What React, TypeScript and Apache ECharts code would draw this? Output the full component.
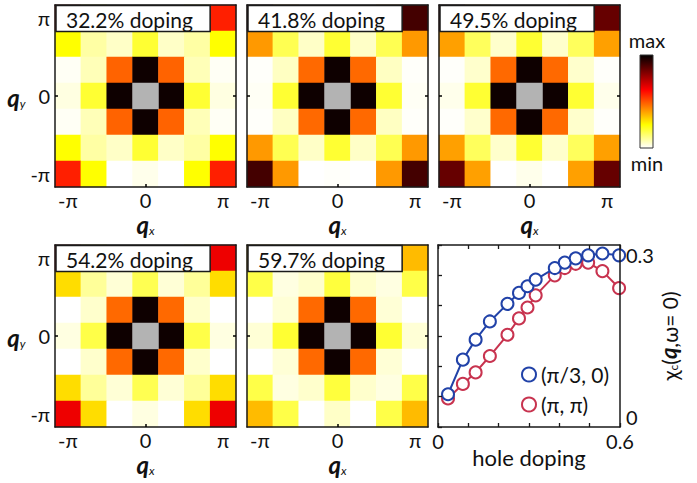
import React, { useEffect, useRef } from "react";
import * as echarts from "echarts";

const FONT = 'Lato, "Noto Sans", "DejaVu Sans", sans-serif';

// wave-vector categories (7 x 7 grid)
const qLabels = ["-π", "-2π/3", "-π/3", "0", "π/3", "2π/3", "π"];

// panel titles
const panelTitles = ["32.2% doping", "41.8% doping", "49.5% doping", "54.2% doping", "59.7% doping"];

// normalised chi_c(q) maps, rows from q_y = π (top) to q_y = -π (bottom); null = q = 0
const map322 = [
  [0.58, 0.25, 0.0, 0.02, 0.0, 0.25, 0.58],
  [0.25, 0.09, 0.055, 0.2, 0.055, 0.09, 0.25],
  [0.01, 0.07, 0.48, 0.98, 0.48, 0.07, 0.01],
  [0.03, 0.2, 0.98, null, 0.98, 0.2, 0.03],
  [0.01, 0.07, 0.48, 0.98, 0.48, 0.07, 0.01],
  [0.25, 0.09, 0.055, 0.2, 0.055, 0.09, 0.25],
  [0.58, 0.25, 0.0, 0.02, 0.0, 0.25, 0.58],
];
const map418 = [
  [0.9, 0.4, 0.0, 0.005, 0.0, 0.4, 0.9],
  [0.4, 0.17, 0.055, 0.2, 0.055, 0.17, 0.4],
  [0.005, 0.06, 0.47, 0.98, 0.47, 0.06, 0.005],
  [0.01, 0.2, 0.98, null, 0.98, 0.2, 0.01],
  [0.005, 0.06, 0.47, 0.98, 0.47, 0.06, 0.005],
  [0.4, 0.17, 0.055, 0.2, 0.055, 0.17, 0.4],
  [0.9, 0.4, 0.0, 0.005, 0.0, 0.4, 0.9],
];
const map495 = [
  [0.85, 0.39, 0.0, 0.02, 0.0, 0.39, 0.85],
  [0.39, 0.16, 0.05, 0.2, 0.05, 0.16, 0.39],
  [0.005, 0.05, 0.47, 0.98, 0.47, 0.05, 0.005],
  [0.02, 0.2, 0.98, null, 0.98, 0.2, 0.02],
  [0.005, 0.05, 0.47, 0.98, 0.47, 0.05, 0.005],
  [0.39, 0.16, 0.05, 0.2, 0.05, 0.16, 0.39],
  [0.85, 0.39, 0.0, 0.02, 0.0, 0.39, 0.85],
];
const map542 = [
  [0.65, 0.3, 0.0, 0.03, 0.0, 0.3, 0.65],
  [0.3, 0.1, 0.04, 0.17, 0.04, 0.1, 0.3],
  [0.0, 0.05, 0.47, 0.98, 0.47, 0.05, 0.0],
  [0.03, 0.18, 0.98, null, 0.98, 0.18, 0.03],
  [0.0, 0.05, 0.47, 0.98, 0.47, 0.05, 0.0],
  [0.3, 0.1, 0.04, 0.17, 0.04, 0.1, 0.3],
  [0.65, 0.3, 0.0, 0.03, 0.0, 0.3, 0.65],
];
const map597 = [
  [0.35, 0.18, 0.0, 0.055, 0.0, 0.18, 0.35],
  [0.18, 0.03, 0.05, 0.19, 0.05, 0.03, 0.18],
  [0.0, 0.04, 0.47, 0.98, 0.47, 0.04, 0.0],
  [0.04, 0.2, 0.98, null, 0.98, 0.2, 0.04],
  [0.0, 0.04, 0.47, 0.98, 0.47, 0.04, 0.0],
  [0.18, 0.03, 0.05, 0.19, 0.05, 0.03, 0.18],
  [0.35, 0.18, 0.0, 0.055, 0.0, 0.18, 0.35],
];
const maps = [map322, map418, map495, map542, map597];

// line panel
const holeDoping = [0.033, 0.082, 0.124, 0.171, 0.229, 0.267, 0.295, 0.322, 0.385, 0.418, 0.454, 0.495, 0.542, 0.597];
const chiPi3 = [0.054, 0.111, 0.144, 0.174, 0.203, 0.221, 0.232, 0.243, 0.262, 0.271, 0.278, 0.283, 0.286, 0.283];
const chiPiPi = [0.047, 0.071, 0.09, 0.117, 0.152, 0.179, 0.197, 0.217, 0.25, 0.262, 0.269, 0.271, 0.257, 0.229];
const seriesNames = ["(π/3, 0)", "(π, π)"];

// reversed "hot" colour map, min -> max
const hotColors = ["#ffffff", "#ffff80", "#ffff00", "#ffaa00", "#ff5500", "#ff0000", "#aa0000", "#550000", "#000000"];

const PANELS = [
  { left: 55, top: 5 },
  { left: 247, top: 5 },
  { left: 439, top: 5 },
  { left: 55, top: 245 },
  { left: 247, top: 245 },
];
const PW = 181;
const PH = 182;
const LINE_GRID = { left: 438, top: 245, width: 182, height: 182 };
const BLUE = "#2142a8";
const RED = "#c8334f";
const AX = "#1a1a1a";
const CENTRE_GREY = "#b3b3b3";

function toCells(rows: (number | null)[][]) {
  const out: number[][] = [];
  const n = rows.length;
  rows.forEach((row, r) =>
    row.forEach((v, c) => {
      if (v !== null) out.push([c, n - 1 - r, v]);
    })
  );
  return out;
}
function centreCells(rows: (number | null)[][]) {
  const out: number[][] = [];
  const n = rows.length;
  rows.forEach((row, r) =>
    row.forEach((v, c) => {
      if (v === null) out.push([c, n - 1 - r, 0]);
    })
  );
  return out;
}

const qRich = {
  q: { fontFamily: FONT, fontSize: 24, fontStyle: "italic", fontWeight: "bold", color: "#111", verticalAlign: "bottom", lineHeight: 26 },
  s: { fontFamily: FONT, fontSize: 12, fontStyle: "italic", color: "#111", verticalAlign: "bottom", lineHeight: 10 },
};

export default function App() {
  const ref = useRef<HTMLDivElement>(null);
  useEffect(() => {
    if (!ref.current) return;
    const chart = echarts.init(ref.current, null, { renderer: "svg" });

    const grid: any[] = [];
    const xAxis: any[] = [];
    const yAxis: any[] = [];
    const series: any[] = [];
    const graphic: any[] = [];

    const centreTick = (i: number) => i === 3;
    const lineStyle = { color: AX, width: 1.5 };

    PANELS.forEach((p, k) => {
      grid.push({ left: p.left, top: p.top, width: PW, height: PH });
      const showY = k === 0 || k === 3;
      xAxis.push({
        type: "category",
        gridIndex: k,
        data: qLabels,
        position: "bottom",
        z: 5,
        axisLine: { show: true, onZero: false, lineStyle },
        axisTick: { show: true, inside: true, length: 3, alignWithLabel: true, interval: centreTick, lineStyle: { color: "#000", width: 1.5 } },
        axisLabel: { interval: (i: number) => i % 3 === 0, margin: 4, lineHeight: 18, color: "#111", fontSize: 20, fontFamily: FONT },
        splitLine: { show: false },
        name: "{q|q}{s|x}",
        nameLocation: "middle",
        nameGap: 23,
        nameTextStyle: { rich: qRich },
      });
      xAxis.push({
        type: "category",
        gridIndex: k,
        data: qLabels,
        position: "top",
        z: 5,
        axisLine: { show: true, onZero: false, lineStyle },
        axisTick: { show: false },
        axisLabel: { show: false },
        splitLine: { show: false },
      });
      yAxis.push({
        type: "category",
        gridIndex: k,
        data: qLabels,
        position: "left",
        z: 5,
        axisLine: { show: true, onZero: false, lineStyle },
        axisTick: { show: true, inside: true, length: 3, alignWithLabel: true, interval: centreTick, lineStyle: { color: "#000", width: 1.5 } },
        axisLabel: { show: showY, interval: (i: number) => i % 3 === 0, margin: 5, color: "#111", fontSize: 20, fontFamily: FONT },
        splitLine: { show: false },
        name: showY ? "{q|q}{s|y}" : "",
        nameLocation: "middle",
        nameRotate: 0,
        nameGap: 24,
        nameTextStyle: { rich: qRich },
      });
      yAxis.push({
        type: "category",
        gridIndex: k,
        data: qLabels,
        position: "right",
        z: 5,
        axisLine: { show: true, onZero: false, lineStyle },
        axisTick: { show: true, inside: true, length: 3, alignWithLabel: true, interval: centreTick, lineStyle: { color: "#000", width: 1.5 } },
        axisLabel: { show: false },
        splitLine: { show: false },
      });

      const cellW = PW / qLabels.length;
      const cellH = PH / qLabels.length;
      graphic.push({
        type: "rect",
        z: 100,
        shape: { x: p.left + 1, y: p.top + 0.5, width: cellW * 6 - 1, height: cellH },
        style: { fill: "#fff", stroke: AX, lineWidth: 1.5 },
      });
      graphic.push({
        type: "text",
        z: 101,
        x: p.left + 11,
        y: p.top + cellH / 2 + 1,
        style: { text: panelTitles[k], fill: "#111", font: `21px ${FONT}`, verticalAlign: "middle", textAlign: "left" },
      });
    });

    maps.forEach((m, k) => {
      series.push({
        type: "heatmap",
        xAxisIndex: 2 * k,
        yAxisIndex: 2 * k,
        data: toCells(m),
        emphasis: { disabled: true },
        progressive: 0,
      });
    });
    maps.forEach((m, k) => {
      series.push({
        type: "heatmap",
        xAxisIndex: 2 * k,
        yAxisIndex: 2 * k,
        data: centreCells(m),
        emphasis: { disabled: true },
      });
    });

    // line panel
    grid.push(LINE_GRID);
    const lg = 5;
    const xLab = (v: number) => (Math.abs(v) < 1e-9 ? "0" : Math.abs(v - 0.6) < 1e-9 ? "0.6" : "");
    const yLab = (v: number) => (Math.abs(v) < 1e-9 ? "0" : Math.abs(v - 0.3) < 1e-9 ? "0.3" : "");
    xAxis.push({
      type: "value",
      gridIndex: lg,
      min: 0,
      max: 0.6,
      interval: 0.1,
      position: "bottom",
      z: 5,
      axisLine: { show: true, onZero: false, lineStyle },
      axisTick: { show: true, inside: true, length: 4, lineStyle: { color: AX, width: 1.3 } },
      axisLabel: { formatter: xLab, margin: 5, lineHeight: 18, color: "#111", fontSize: 20, fontFamily: FONT, showMinLabel: true, showMaxLabel: true },
      splitLine: { show: false },
      name: "hole doping",
      nameLocation: "middle",
      nameGap: 19,
      nameMoveOverlap: false,
      nameTextStyle: { fontSize: 22, lineHeight: 22, fontFamily: FONT, color: "#111" },
    });
    xAxis.push({
      type: "value",
      gridIndex: lg,
      min: 0,
      max: 0.6,
      interval: 0.1,
      position: "top",
      z: 5,
      axisLine: { show: true, onZero: false, lineStyle },
      axisTick: { show: true, inside: true, length: 4, lineStyle: { color: AX, width: 1.3 } },
      axisLabel: { show: false },
      splitLine: { show: false },
    });
    yAxis.push({
      type: "value",
      gridIndex: lg,
      min: 0,
      max: 0.3,
      interval: 0.05,
      position: "left",
      z: 5,
      axisLine: { show: true, onZero: false, lineStyle },
      axisTick: { show: true, inside: true, length: 4, lineStyle: { color: AX, width: 1.3 } },
      axisLabel: { show: false },
      splitLine: { show: false },
    });
    yAxis.push({
      type: "value",
      gridIndex: lg,
      min: 0,
      max: 0.3,
      interval: 0.05,
      position: "right",
      z: 5,
      axisLine: { show: true, onZero: false, lineStyle },
      axisTick: { show: false },
      axisLabel: {
        formatter: yLab,
        margin: 6,
        color: "#111",
        fontSize: 20,
        fontFamily: FONT,
        verticalAlignMaxLabel: "top",
        verticalAlignMinLabel: "bottom",
      },
      splitLine: { show: false },
      name: "{n|χ}{c|c}{n|(}{b|q}{n|,ω= 0)}",
      nameLocation: "middle",
      nameGap: 10,
      nameTextStyle: {
        rich: {
          n: { fontFamily: FONT, fontSize: 21, color: "#111", verticalAlign: "bottom", lineHeight: 24 },
          c: { fontFamily: FONT, fontSize: 12, color: "#111", verticalAlign: "bottom", lineHeight: 10 },
          b: { fontFamily: FONT, fontSize: 22, fontStyle: "italic", fontWeight: "bold", color: "#111", verticalAlign: "bottom", lineHeight: 24 },
        },
      },
    });

    const ix = 2 * lg;
    series.push({
      type: "line",
      name: seriesNames[1],
      xAxisIndex: ix,
      yAxisIndex: ix + 1,
      data: holeDoping.map((x, i) => [x, chiPiPi[i]]),
      symbol: "emptyCircle",
      symbolSize: 12,
      lineStyle: { color: RED, width: 2 },
      itemStyle: { color: RED, borderColor: RED, borderWidth: 2 },
      z: 3,
    });
    series.push({
      type: "line",
      name: seriesNames[0],
      xAxisIndex: ix,
      yAxisIndex: ix + 1,
      data: holeDoping.map((x, i) => [x, chiPi3[i]]),
      symbol: "emptyCircle",
      symbolSize: 12,
      lineStyle: { color: BLUE, width: 2 },
      itemStyle: { color: BLUE, borderColor: BLUE, borderWidth: 2 },
      z: 4,
    });

    // colour bar
    const stops = hotColors.map((c, i) => ({ offset: 1 - i / (hotColors.length - 1), color: c }));
    graphic.push({
      type: "rect",
      z: 100,
      shape: { x: 640, y: 55, width: 13, height: 93 },
      style: { fill: new echarts.graphic.LinearGradient(0, 0, 0, 1, stops.slice().reverse()), stroke: "#333", lineWidth: 1 },
    });
    graphic.push({
      type: "text",
      z: 100,
      x: 647,
      y: 40,
      style: { text: "max", fill: "#111", font: `20px ${FONT}`, textAlign: "center", verticalAlign: "middle" },
    });
    graphic.push({
      type: "text",
      z: 100,
      x: 647,
      y: 163,
      style: { text: "min", fill: "#111", font: `20px ${FONT}`, textAlign: "center", verticalAlign: "middle" },
    });

    chart.setOption({
      animation: false,
      backgroundColor: "#ffffff",
      textStyle: { fontFamily: FONT },
      grid,
      xAxis,
      yAxis,
      visualMap: [
        {
          type: "continuous",
          show: false,
          min: 0,
          max: 1,
          seriesIndex: [0, 1, 2, 3, 4],
          inRange: { color: hotColors },
        },
        {
          type: "continuous",
          show: false,
          min: 0,
          max: 1,
          seriesIndex: [5, 6, 7, 8, 9],
          inRange: { color: [CENTRE_GREY, CENTRE_GREY] },
        },
      ],
      legend: {
        orient: "vertical",
        left: 516,
        top: 359,
        itemWidth: 14,
        itemHeight: 14,
        itemGap: 9,
        textStyle: { fontSize: 21, fontFamily: FONT, color: "#111" },
        data: [
          { name: seriesNames[0], icon: "circle", itemStyle: { color: "#fff", borderColor: BLUE, borderWidth: 2 } },
          { name: seriesNames[1], icon: "circle", itemStyle: { color: "#fff", borderColor: RED, borderWidth: 2 } },
        ],
      },
      graphic,
      series,
    });
    return () => chart.dispose();
  }, []);
  return <div ref={ref} style={{ position: "fixed", left: 0, top: 0, width: 697, height: 483 }} />;
}
